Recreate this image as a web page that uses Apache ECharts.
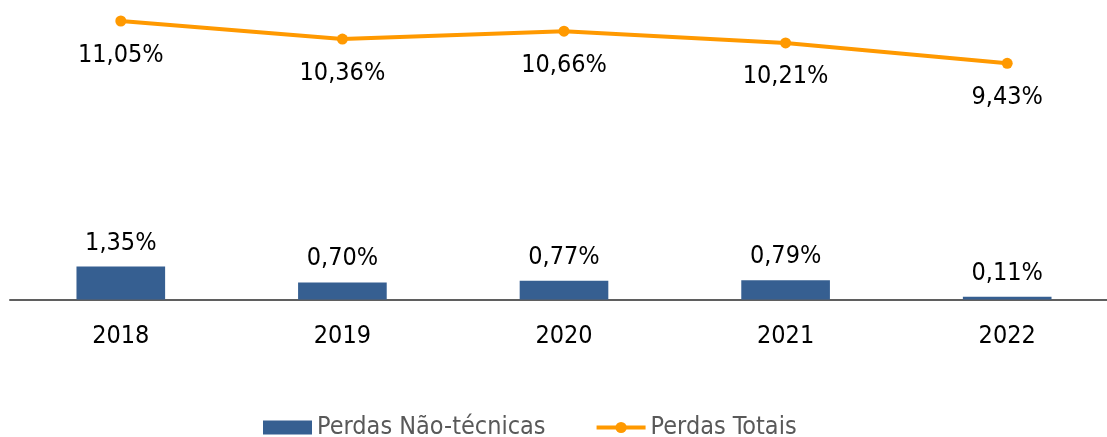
<!DOCTYPE html>
<html>
<head>
<meta charset="utf-8">
<script src="https://cdn.jsdelivr.net/npm/echarts@6/dist/echarts.min.js"></script>
<style>html,body{margin:0;padding:0;background:#fff;overflow:hidden;width:1107px;height:437px;}#c{width:1118px;height:437px;}</style>
</head>
<body>
<div id="c"></div>
<script>
var categories = ['2018', '2019', '2020', '2021', '2022'];
var perdasNaoTecnicas = [1.35, 0.70, 0.77, 0.79, 0.11];
var perdasTotais = [11.05, 10.36, 10.66, 10.21, 9.43];
var seriesNames = ['Perdas Não-técnicas', 'Perdas Totais'];

var FONT = "'DejaVu Sans Condensed', 'Noto Sans', sans-serif";
function fmt(p) { return p.value.toFixed(2).replace('.', ',') + '%'; }

var chart = echarts.init(document.getElementById('c'), null, {renderer: 'canvas'});
chart.setOption({
  animation: false,
  backgroundColor: '#ffffff',
  grid: {left: 10, top: 0, right: 0, height: 299.5},
  legend: {
    left: 258, top: 410,
    itemWidth: 49, itemHeight: 14, itemGap: 49,
    textStyle: {color: '#595959', fontSize: 25, fontFamily: FONT},
    data: [
      {name: seriesNames[0], icon: 'rect'},
      {name: seriesNames[1], lineStyle: {width: 4, color: '#FF9900'}}
    ]
  },
  xAxis: {
    type: 'category',
    data: categories,
    axisLine: {lineStyle: {color: '#5f5f5f', width: 2}},
    axisTick: {show: false},
    axisLabel: {color: '#000', fontSize: 25, fontFamily: FONT, margin: 24}
  },
  yAxis: [
    {type: 'value', min: 0, max: 12.27, show: false, splitLine: {show: false}},
    {type: 'value', min: 0.38, max: 11.855, show: false, splitLine: {show: false}}
  ],
  series: [
    {
      name: seriesNames[0], type: 'bar', data: perdasNaoTecnicas,
      yAxisIndex: 0, barWidth: '40%',
      itemStyle: {color: '#365F91'},
      label: {show: true, position: 'top', distance: 11, formatter: fmt,
              color: '#000', fontSize: 25, fontFamily: FONT}
    },
    {
      name: seriesNames[1], type: 'line', data: perdasTotais,
      yAxisIndex: 1, symbol: 'circle', symbolSize: 11,
      lineStyle: {color: '#FF9900', width: 4},
      itemStyle: {color: '#FF9900'},
      label: {show: true, position: 'bottom', distance: 16, formatter: fmt,
              color: '#000', fontSize: 25, fontFamily: FONT}
    }
  ]
});
</script>
</body>
</html>
